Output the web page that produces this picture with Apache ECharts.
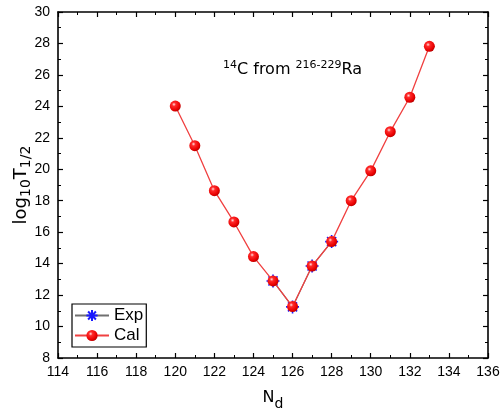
<!DOCTYPE html>
<html>
<head>
<meta charset="utf-8">
<script src="https://cdn.jsdelivr.net/npm/echarts@6/dist/echarts.min.js"></script>
<style>html,body{margin:0;padding:0;background:#fff;}#c{width:500px;height:412px;}</style>
</head>
<body>
<div id="c"></div>
<script>
const calNd = [120,121,122,123,124,125,126,127,128,129,130,131,132,133];
const calLogT = [24.02,21.5,18.64,16.65,14.45,12.9,11.27,13.85,15.4,18.0,19.9,22.39,24.58,27.82];
const expNd = [125,126,127,128];
const expLogT = [12.9,11.25,13.85,15.4];
const xTicks = {min:114, max:136, step:2};
const yTicks = {min:8, max:30, step:2};

const font = 'Liberation Sans, Arial, sans-serif';
const wide = 'DejaVu Sans, sans-serif';
const chart = echarts.init(document.getElementById('c'), null, {renderer:'canvas'});
const axisCommon = {
  axisLine:{show:true, onZero:false, lineStyle:{color:'#000', width:1.6}},
  axisTick:{show:true, inside:true, length:5, lineStyle:{color:'#000', width:1.2}},
  minorTick:{show:true, splitNumber:2, length:3, lineStyle:{color:'#000', width:1}},
  splitLine:{show:false}
};
const sphere = {type:'radial', x:0.38, y:0.35, r:0.7, colorStops:[
  {offset:0, color:'#ffe0e0'},{offset:0.25, color:'#ff2a2a'},{offset:0.75, color:'#e80000'},{offset:1, color:'#b00000'}]};
chart.setOption({
  animation:false,
  backgroundColor:'#fff',
  textStyle:{fontFamily:font},
  title:{
    text:'{sup|14}{m|C from }{sup|216-229}{m|Ra}',
    left:223, top:60, padding:0,
    textStyle:{fontFamily:wide, fontSize:16, fontWeight:'normal', color:'#000',
      rich:{m:{fontSize:16, fontFamily:wide, color:'#000'},
            sup:{fontSize:11, verticalAlign:'top', padding:[0,0,8,0], fontFamily:wide, color:'#000'}}}
  },
  legend:{
    orient:'vertical', left:72, top:304, width:72, height:44,
    padding:[3,3,3,2], itemGap:3, itemWidth:34, itemHeight:14,
    borderColor:'#000', borderWidth:1.2, backgroundColor:'#fff',
    textStyle:{fontFamily:font, fontSize:17, color:'#000'},
    data:['Exp','Cal']
  },
  grid:{left:58, right:12, top:12, bottom:54, containLabel:false, outerBoundsMode:'none'},
  xAxis:[
    Object.assign({type:'value', position:'bottom', min:xTicks.min, max:xTicks.max, interval:xTicks.step,
      name:'{m|N}{s|d}', nameLocation:'middle', nameGap:27, nameMoveOverlap:false,
      nameTextStyle:{rich:{m:{fontSize:16, fontFamily:wide, color:'#000'}, s:{fontSize:14, fontFamily:wide, color:'#000', verticalAlign:'bottom', padding:[12,0,0,0]}}},
      axisLabel:{fontSize:14, color:'#000', margin:7, fontFamily:font}}, axisCommon),
    Object.assign({type:'value', position:'top', min:xTicks.min, max:xTicks.max, interval:xTicks.step,
      axisLabel:{show:false}}, axisCommon)
  ],
  yAxis:[
    Object.assign({type:'value', position:'left', min:yTicks.min, max:yTicks.max, interval:yTicks.step,
      name:'{m|log}{s|10}{m|T}{s|1/2}', nameLocation:'middle', nameGap:25, nameRotate:90, nameMoveOverlap:false,
      nameTextStyle:{rich:{m:{fontSize:18, fontFamily:wide, color:'#000'}, s:{fontSize:14, fontFamily:wide, color:'#000', verticalAlign:'bottom', padding:[10,0,0,0]}}},
      axisLabel:{fontSize:14, color:'#000', margin:8, fontFamily:font}}, axisCommon),
    Object.assign({type:'value', position:'right', min:yTicks.min, max:yTicks.max, interval:yTicks.step,
      axisLabel:{show:false}}, axisCommon)
  ],
  series:[
    {name:'Exp', type:'line', z:2,
      data:expNd.map((x,i)=>[x, expLogT[i]]),
      symbol:'path://M0,-6L0,6M-6,0L6,0M-4.2,-4.2L4.2,4.2M-4.2,4.2L4.2,-4.2',
      symbolSize:13,
      itemStyle:{color:'#1a1aff', borderColor:'#1a1aff', borderWidth:1.6},
      lineStyle:{color:'#707070', width:1.2}},
    {name:'Cal', type:'line', z:3,
      data:calNd.map((x,i)=>[x, calLogT[i]]),
      symbol:'circle', symbolSize:11,
      itemStyle:{color:sphere, borderWidth:0},
      lineStyle:{color:'#f04040', width:1.3}}
  ]
});
</script>
</body>
</html>
